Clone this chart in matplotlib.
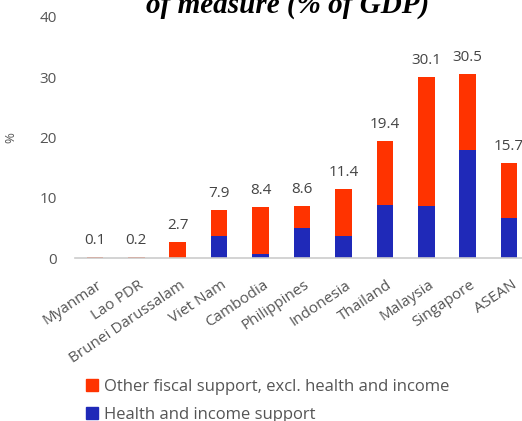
import matplotlib
matplotlib.use("Agg")
import matplotlib.pyplot as plt
from matplotlib.patches import Patch
from matplotlib.transforms import ScaledTranslation

countries = ["Myanmar", "Lao PDR", "Brunei Darussalam", "Viet Nam", "Cambodia",
             "Philippines", "Indonesia", "Thailand", "Malaysia", "Singapore", "ASEAN"]
totals = [0.1, 0.2, 2.7, 7.9, 8.4, 8.6, 11.4, 19.4, 30.1, 30.5, 15.7]
health_income = [0.0, 0.0, 0.0, 3.7, 0.7, 5.0, 3.6, 8.8, 8.7, 18.0, 6.6]
other = [round(t - h, 2) for t, h in zip(totals, health_income)]
total_labels = ["0.1", "0.2", "2.7", "7.9", "8.4", "8.6", "11.4", "19.4", "30.1", "30.5", "15.7"]
yticks = [0, 10, 20, 30, 40]

RED = "#FF3300"
BLUE = "#1F29B8"
GRAY = "#555555"

plt.rcParams['font.family'] = ['Open Sans', 'DejaVu Sans']

fig = plt.figure(figsize=(5.22, 4.21), dpi=100)
ax = fig.add_axes([75/522, 163/421, 1 - 75/522, (258-17)/421])

x = list(range(len(countries)))
ax.bar(x, health_income, width=0.4, color=BLUE)
ax.bar(x, other, width=0.4, bottom=health_income, color=RED)
for xi, t, lab in zip(x, totals, total_labels):
    ax.annotate(lab, (xi, t), xytext=(0, 6.5), textcoords="offset points",
                ha="center", va="bottom", fontsize=11, color="#444444", clip_on=False)

ax.set_xlim(-0.48, 10.31)
ax.set_ylim(0, 40)
ax.set_yticks(yticks)
ax.set_yticklabels([str(v) for v in yticks])
ax.set_xticks(x)
ax.set_xticklabels(countries, rotation=34, ha="right", va="top", rotation_mode="anchor")
ax.tick_params(axis="both", length=0, labelsize=11, labelcolor=GRAY)
ax.tick_params(axis="y", pad=13)
ax.tick_params(axis="x", pad=14)
shift = ScaledTranslation(2/100, 0, fig.dpi_scale_trans)
for lbl in ax.get_xticklabels():
    lbl.set_transform(lbl.get_transform() + shift)
for s in ["top", "right", "left"]:
    ax.spines[s].set_visible(False)
ax.spines["bottom"].set_color("#cccccc")
ax.spines["bottom"].set_linewidth(1.2)
ax.set_ylabel("%", fontsize=9.5, color=GRAY)
ax.yaxis.set_label_coords((17 - 75) / 447, (258 - 138) / 241)

fig.text(288/522, 1.0 - 13/421, "of measure (% of GDP)", ha="center", va="baseline",
         fontsize=21, fontweight="bold", fontstyle="italic", family="Liberation Serif")

handles = [Patch(color=RED, label="Other fiscal support, excl. health and income"),
           Patch(color=BLUE, label="Health and income support")]
fig.legend(handles=handles, loc="upper left", bbox_to_anchor=(71/522, 1 - 364/421),
           frameon=False, fontsize=12, labelcolor=GRAY, handlelength=0.7, handleheight=0.7,
           handletextpad=0.4, labelspacing=0.7)

fig.savefig("out.png", dpi=100)
